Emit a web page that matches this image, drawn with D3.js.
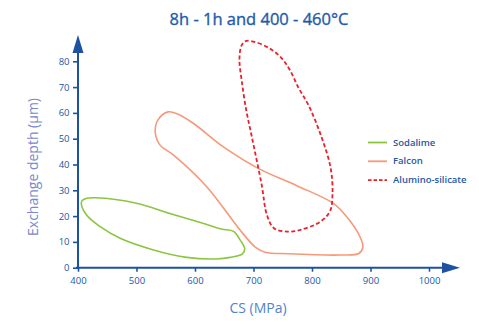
<!DOCTYPE html>
<html><head><meta charset="utf-8">
<script src="https://cdn.jsdelivr.net/npm/d3@7"></script>
<style>
html,body{margin:0;padding:0;background:#fff;}
svg{display:block;font-family:"Open Sans",sans-serif;}
</style></head>
<body>
<svg id="c" width="479" height="324"></svg>
<script>
const title = "8h - 1h and 400 - 460°C";
const xLabel = "CS (MPa)";
const yLabel = "Exchange depth (µm)";
const xTicks = [400, 500, 600, 700, 800, 900, 1000];
const yTicks = [0, 10, 20, 30, 40, 50, 60, 70, 80];
const seriesNames = ["Sodalime", "Falcon", "Alumino-silicate"];
const seriesColors = ["#8cc63f", "#f7987a", "#e8212b"];

// outline points [CS (MPa), exchange depth (µm)]
const sodalime = [
  [406, 25.6], [415, 26.9], [430, 27.1], [500, 25.0], [557, 21.0], [612, 17.3],
  [645, 15.0], [666, 14.1], [677, 10.8], [685, 7.3], [681, 5.4], [660, 4.0],
  [637, 3.4], [586, 4.0], [529, 6.9], [472, 11.4], [438, 15.9], [414, 20.6]
];
const falcon = [
  [554, 60.4], [570, 59.6], [597, 56], [648, 46.9], [708, 38.5], [774, 31.8],
  [836, 25], [859, 19.8], [882, 12], [887, 8.0], [880, 5.5], [848, 4.9],
  [760, 5.4], [720, 6.0], [703, 8.0], [677, 14.6], [620, 31.4], [563, 43.7],
  [540, 47.6], [532, 52.7], [537, 57.4]
];
const aluminoSilicate = [
  [688, 87.9], [708, 87.1], [731, 84.5], [748, 81.2], [762, 76.7], [777, 69.7],
  [794, 63.0], [816, 50.8], [832, 38.5], [835, 28.2], [831, 22], [814, 17.8],
  [779, 14.6], [757, 14.0], [735, 15.3], [723, 20.4], [714, 32.1], [697, 50.9],
  [688, 60.6], [680, 72.2], [676, 81], [680, 86.3]
];
const shapes = [sodalime, falcon, aluminoSilicate];

const svg = d3.select("#c");
const x = d3.scaleLinear().domain([400, 1000]).range([78, 429]);
const y = d3.scaleLinear().domain([0, 80]).range([267.7, 61.3]);
const axisColor = "#1d52a2";
const tickText = "#2058a8";

// title
svg.append("text").attr("x", 259).attr("y", 25).attr("text-anchor", "middle")
  .attr("font-size", 16.5).attr("fill", "#1f5bab")
  .attr("stroke", "#1f5bab").attr("stroke-width", 0.35).text(title);

// shapes
const line = d3.line().x(d => x(d[0])).y(d => y(d[1])).curve(d3.curveCatmullRomClosed.alpha(0.5));
shapes.forEach((s, i) => {
  svg.append("path").attr("d", line(s)).attr("fill", "none")
    .attr("stroke", seriesColors[i]).attr("stroke-width", i === 2 ? 1.8 : 1.6)
    .attr("stroke-dasharray", i === 2 ? "4,2.5" : null);
});

// x axis
const gx = svg.append("g").attr("transform", `translate(0,${y(0)})`)
  .call(d3.axisBottom(x).tickValues(xTicks).tickSize(4).tickSizeOuter(0).tickFormat(d3.format("d")));
gx.select(".domain").remove();
gx.selectAll(".tick line").attr("stroke", axisColor).attr("stroke-width", 1.6);
gx.selectAll(".tick text").attr("fill", tickText).attr("font-size", 9.5).attr("dy", "0.95em")
  .attr("font-family", "Open Sans, sans-serif");
svg.append("line").attr("x1", x(400) - 2).attr("x2", 446).attr("y1", y(0)).attr("y2", y(0))
  .attr("stroke", axisColor).attr("stroke-width", 2);
svg.append("path").attr("d", `M442,${y(0) - 5.5}L460,${y(0)}L442,${y(0) + 5.5}Z`).attr("fill", axisColor);

// y axis
const gy = svg.append("g").attr("transform", `translate(${x(400)},0)`)
  .call(d3.axisLeft(y).tickValues(yTicks).tickSize(5).tickSizeOuter(0).tickFormat(d3.format("d")));
gy.select(".domain").remove();
gy.selectAll(".tick line").attr("stroke", axisColor).attr("stroke-width", 1.6);
gy.selectAll(".tick text").attr("fill", tickText).attr("font-size", 9.5).attr("x", -8.5)
  .attr("font-family", "Open Sans, sans-serif");
svg.append("line").attr("x1", x(400)).attr("x2", x(400)).attr("y1", y(0) + 1).attr("y2", 50)
  .attr("stroke", axisColor).attr("stroke-width", 2);
svg.append("path").attr("d", `M${x(400) - 5.5},53L${x(400)},35L${x(400) + 5.5},53Z`).attr("fill", axisColor);

// axis labels
svg.append("text").attr("x", 258).attr("y", 313).attr("text-anchor", "middle")
  .attr("font-size", 14).attr("fill", "#4f84cc").text(xLabel);
svg.append("text").attr("transform", "translate(38,167) rotate(-90)").attr("text-anchor", "middle")
  .attr("font-size", 14).attr("fill", "#7a88cc").text(yLabel);

// legend
seriesNames.forEach((n, i) => {
  const ly = 142.5 + i * 18.8;
  svg.append("line").attr("x1", 368).attr("x2", 387).attr("y1", ly).attr("y2", ly)
    .attr("stroke", seriesColors[i]).attr("stroke-width", 1.8)
    .attr("stroke-dasharray", i === 2 ? "3.5,2" : null);
  svg.append("text").attr("x", 393).attr("y", ly).attr("dy", "0.33em")
    .attr("font-size", 9.5).attr("font-weight", 600).attr("fill", "#1f58a8").text(n);
});
</script>
</body></html>
